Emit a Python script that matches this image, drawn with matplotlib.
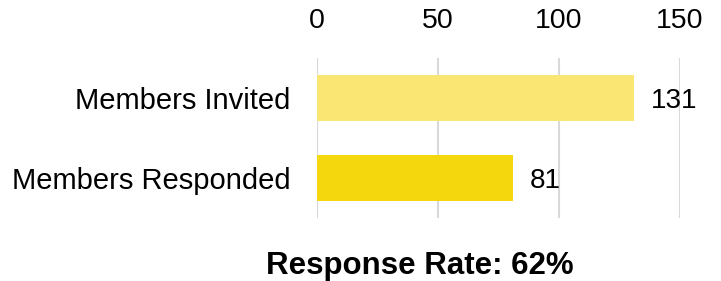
import matplotlib
matplotlib.use("Agg")
import matplotlib.pyplot as plt

categories = ["Members Responded", "Members Invited"]
values = [81, 131]
colors = ["#F5D70E", "#F9E673"]
ticks = [0, 50, 100, 150]
title = "Response Rate: 62%"

plt.rcParams['font.family'] = ['Liberation Sans', 'DejaVu Sans']

fig = plt.figure(figsize=(7.21, 2.81), dpi=100)
ax = fig.add_axes([317/721, 1-218/281, (680-317)/721, 160/281])
ypos = range(len(categories))
ax.barh(ypos, values, height=0.57, color=colors, zorder=2)
for y, v in zip(ypos, values):
    ax.text(v + 7, y - 0.04, str(v), va='center', ha='left', fontsize=20, color='#000000', clip_on=False)
ax.set_xlim(0, 150)
ax.set_ylim(-0.5, 1.5)
ax.set_yticks(list(ypos))
ax.set_yticklabels(categories, fontsize=21)
ax.set_xticks(ticks)
ax.set_xticklabels([str(t) for t in ticks], fontsize=20.5)
ax.xaxis.tick_top()
ax.tick_params(axis='both', length=0)
ax.tick_params(axis='x', pad=17)
ax.tick_params(axis='y', pad=19)
for s in ax.spines.values():
    s.set_visible(False)
ax.grid(axis='x', color='#D9D9D9', linewidth=1.5, zorder=0)
ax.set_axisbelow(True)
fig.text(420/721, 1-274/281, title, ha='center', va='baseline', fontsize=22.5, fontweight='bold')
fig.savefig("out.png", dpi=100)
